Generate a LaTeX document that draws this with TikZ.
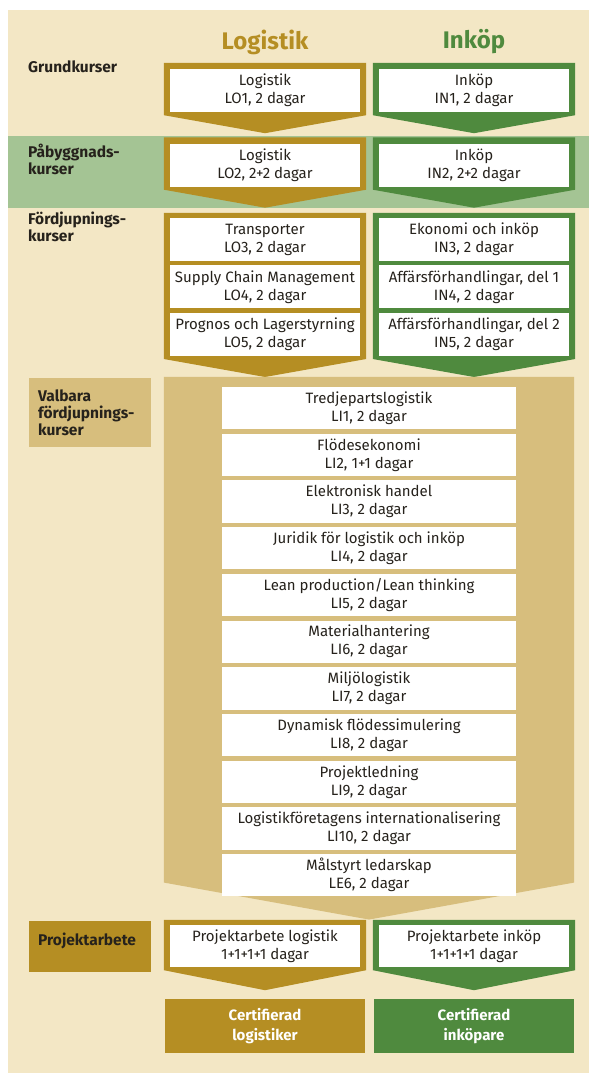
\documentclass[tikz,border=0pt]{standalone}
\usepackage{fontspec}
\setmainfont{Fira Sans}
\usetikzlibrary{positioning, calc, backgrounds}

\definecolor{cream}{RGB}{243,231,197}
\definecolor{gold}{RGB}{181,142,35}
\definecolor{leaf}{RGB}{79,138,62}
\definecolor{mint}{RGB}{164,196,148}
\definecolor{tan}{RGB}{215,190,125}
\definecolor{ink}{RGB}{38,34,28}

\begin{document}
\begin{tikzpicture}[
    % one unit = one pixel of the page, y runs downwards
    x=1pt, y=-1pt,
    % Styles
    course/.style={rectangle, fill=white, minimum width=190pt, minimum height=43pt, inner sep=0pt, text centered, align=center, text=ink, font=\fontsize{15}{18}\selectfont},
    elective/.style={course, minimum width=294pt, minimum height=42.3pt},
    level/.style={anchor=north west, inner sep=0pt, align=left, text=ink, font=\bfseries\fontsize{15.5}{17}\selectfont},
    tag/.style={level, fill=#1, inner xsep=9pt, text width=104pt},
    title/.style={font=\bfseries\fontsize{24}{26}\selectfont},
    cert/.style={rectangle, minimum width=200pt, minimum height=54pt, inner sep=0pt, text=white, align=center, font=\bfseries\fontsize{15}{20}\selectfont}
]
\useasboundingbox (0,0) rectangle (589,1073);

% --- Background and level band ---
\begin{scope}[on background layer]
  \fill[cream] (8,10) rectangle (589,1073);
  \fill[mint] (8,136) rectangle (589,208);
\end{scope}

% --- Column titles ---
\node[title, text=gold] (log_title) at (265,42) {Logistik};
\node[title, text=leaf] (ink_title) at (474,42) {Inköp};

% --- Level labels ---
\node[level] (grund) at (28,61) {Grundkurser};
\node[level] (pabygg) at (28,144) {Påbyggnads-\\kurser};
\node[level] (fordj) at (28,212) {Fördjupnings-\\kurser};
\node[tag=tan, minimum height=69pt] (valbara) at (29,378) {Valbara\\fördjupnings-\\kurser};
\node[tag=gold, text height=24pt, text depth=27pt] (projekt) at (29,921) {Projektarbete};

% --- Grundkurser ---
\node[course] (lo1) at (265,90.5) {Logistik\\LO1, 2 dagar};
\node[course] (in1) at (474,90.5) {Inköp\\IN1, 2 dagar};

% --- Påbyggnadskurser ---
\node[course] (lo2) at (265,165) {Logistik\\LO2, 2+2 dagar};
\node[course] (in2) at (474,165) {Inköp\\IN2, 2+2 dagar};

% --- Fördjupningskurser ---
\node[course] (lo3) at (265,239.5) {Transporter\\LO3, 2 dagar};
\node[course, below=4pt of lo3] (lo4) {Supply Chain Management\\LO4, 2 dagar};
\node[course, below=4pt of lo4] (lo5) {Prognos och Lagerstyrning\\LO5, 2 dagar};
\node[course] (in3) at (474,239.5) {Ekonomi och inköp\\IN3, 2 dagar};
\node[course, below=4pt of in3] (in4) {Affärsförhandlingar, del 1\\IN4, 2 dagar};
\node[course, below=4pt of in4] (in5) {Affärsförhandlingar, del 2\\IN5, 2 dagar};

% --- Valbara fördjupningskurser ---
\node[elective] (li1) at (369,408.2) {Tredjepartslogistik\\LI1, 2 dagar};
\node[elective, below=4pt of li1] (li2) {Flödesekonomi\\LI2, 1+1 dagar};
\node[elective, below=4pt of li2] (li3) {Elektronisk handel\\LI3, 2 dagar};
\node[elective, below=4pt of li3] (li4) {Juridik för logistik och inköp\\LI4, 2 dagar};
\node[elective, below=4pt of li4] (li5) {Lean production/Lean thinking\\LI5, 2 dagar};
\node[elective, below=4pt of li5] (li6) {Materialhantering\\LI6, 2 dagar};
\node[elective, below=4pt of li6] (li7) {Miljölogistik\\LI7, 2 dagar};
\node[elective, below=4pt of li7] (li8) {Dynamisk flödessimulering\\LI8, 2 dagar};
\node[elective, below=4pt of li8] (li9) {Projektledning\\LI9, 2 dagar};
\node[elective, below=4pt of li9] (li10) {Logistikföretagens internationalisering\\LI10, 2 dagar};
\node[elective, below=4pt of li10] (le6) {Målstyrt ledarskap\\LE6, 2 dagar};

% --- Projektarbete ---
\node[course, minimum height=42pt] (pw_log) at (265,946) {Projektarbete logistik\\1+1+1+1 dagar};
\node[course, minimum height=42pt] (pw_ink) at (474,946) {Projektarbete inköp\\1+1+1+1 dagar};

% --- Certifiering ---
\node[cert, fill=gold] (cert_log) at (265,1026) {Certifierad\\logistiker};
\node[cert, fill=leaf] (cert_ink) at (474,1026) {Certifierad\\inköpare};

% --- Chevrons behind the course boxes ---
\begin{scope}[on background layer]
  \fill[gold] ($(lo1.north west)+(-6,-6)$) -- ($(lo1.north east)+(6,-6)$) -- ($(lo1.south east)+(6,3)$) -- ($(lo1.south)+(0,21)$) -- ($(lo1.south west)+(-6,3)$) -- cycle;
  \fill[leaf] ($(in1.north west)+(-6,-6)$) -- ($(in1.north east)+(6,-6)$) -- ($(in1.south east)+(6,3)$) -- ($(in1.south)+(0,21)$) -- ($(in1.south west)+(-6,3)$) -- cycle;
  \fill[gold] ($(lo2.north west)+(-6,-6)$) -- ($(lo2.north east)+(6,-6)$) -- ($(lo2.south east)+(6,3)$) -- ($(lo2.south)+(0,21)$) -- ($(lo2.south west)+(-6,3)$) -- cycle;
  \fill[leaf] ($(in2.north west)+(-6,-6)$) -- ($(in2.north east)+(6,-6)$) -- ($(in2.south east)+(6,3)$) -- ($(in2.south)+(0,21)$) -- ($(in2.south west)+(-6,3)$) -- cycle;
  \fill[gold] ($(lo3.north west)+(-6,-5)$) -- ($(lo3.north east)+(6,-5)$) -- ($(lo5.south east)+(6,3)$) -- ($(lo5.south)+(0,21)$) -- ($(lo5.south west)+(-6,3)$) -- cycle;
  \fill[leaf] ($(in3.north west)+(-6,-5)$) -- ($(in3.north east)+(6,-5)$) -- ($(in5.south east)+(6,3)$) -- ($(in5.south)+(0,21)$) -- ($(in5.south west)+(-6,3)$) -- cycle;
  \fill[tan] ($(li1.north west)+(-58,-10)$) -- ($(li1.north east)+(58,-10)$) -- ($(le6.south east)+(58,-14)$) -- ($(le6.south)+(0,23)$) -- ($(le6.south west)+(-58,-14)$) -- cycle;
  \fill[gold] ($(pw_log.north west)+(-6,-5)$) -- ($(pw_log.north east)+(6,-5)$) -- ($(pw_log.south east)+(6,3)$) -- ($(pw_log.south)+(0,23)$) -- ($(pw_log.south west)+(-6,3)$) -- cycle;
  \fill[leaf] ($(pw_ink.north west)+(-6,-5)$) -- ($(pw_ink.north east)+(6,-5)$) -- ($(pw_ink.south east)+(6,3)$) -- ($(pw_ink.south)+(0,23)$) -- ($(pw_ink.south west)+(-6,3)$) -- cycle;
\end{scope}

\end{tikzpicture}
\end{document}
